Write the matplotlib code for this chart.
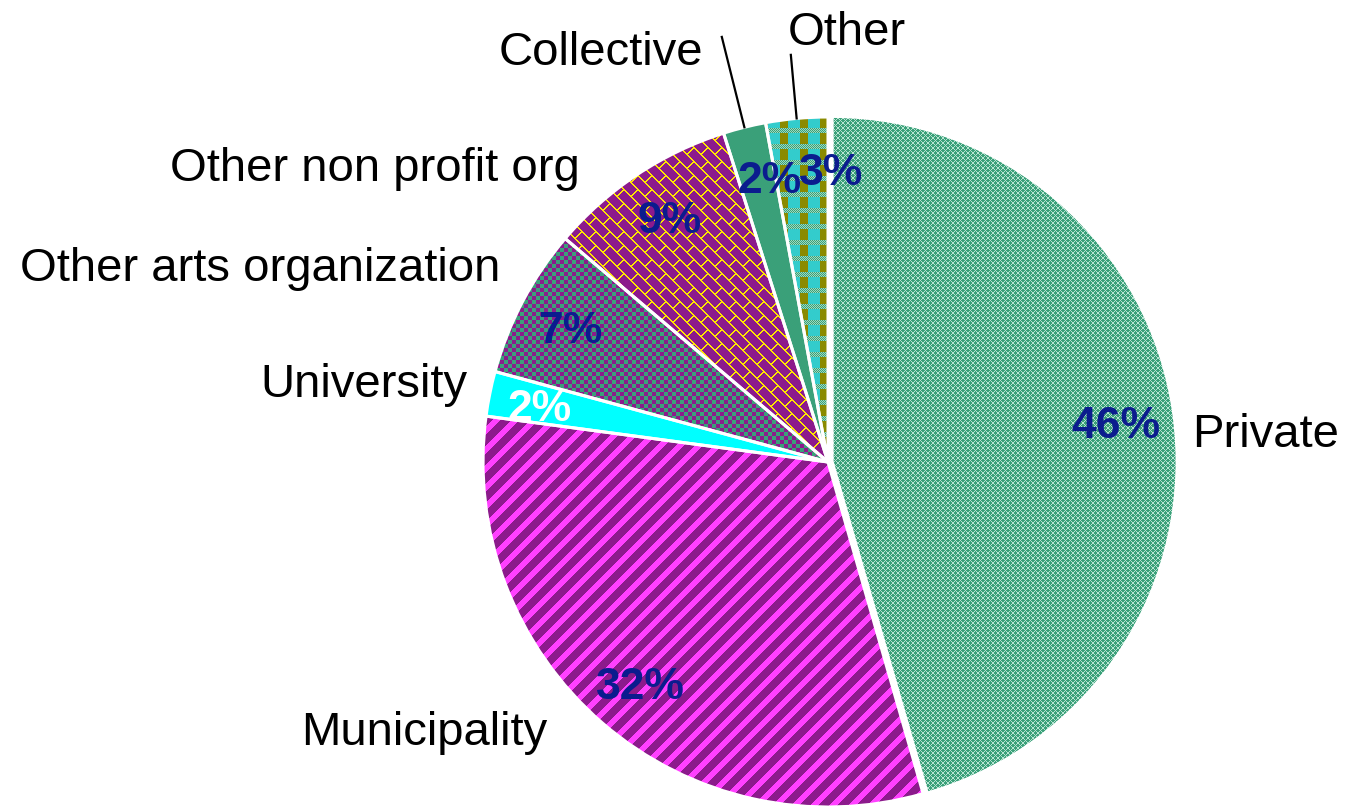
import numpy as np
import matplotlib
matplotlib.use("Agg")
import matplotlib.pyplot as plt

# ---- data ----
categories = ["Private", "Municipality", "University", "Other arts organization",
              "Other non profit org", "Collective", "Other"]
values = [45.6, 31.6, 2.1, 7.0, 8.9, 2.0, 2.9]

# ---- style ----
W, H = 1345, 807
CX, CY, R = 828, 462, 345          # pie centre / radius in pixels
FONT = ["Liberation Sans", "DejaVu Sans"]
explode = [0.012, 0, 0, 0, 0, 0, 0]
pct_colors = ["#0b1c8e", "#0b1c8e", "white", "#0b1c8e", "#0b1c8e", "#0b1c8e", "#0b1c8e"]
pct_shift = [(-0.015, -0.016), (0.008, -0.014), (-0.008, -0.016), (0, -0.016),
             (0.008, -0.006), (0.035, -0.008), (0.085, -0.006)]
# label anchors (data units, radius = 1) and alignment
label_pos = [(1.055, 0.0435, "left"), (-0.812, -0.820, "right"), (-1.046, 0.188, "right"),
             (-0.951, 0.525, "right"), (-0.719, 0.8145, "right"), (-0.362, 1.151, "right"),
             (-0.116, 1.209, "left")]
leader_len = [None, None, None, None, None, 1.27, 1.185]

# ---- textures (figure-pixel aligned) ----
I, J = np.mgrid[0:H, 0:W]
def rgb(h):
    h = h.lstrip("#")
    return np.array([int(h[k:k + 2], 16) for k in (0, 2, 4)], float) / 255

green = rgb("3aa079"); lightg = rgb("b8e4d2"); purple = rgb("8c1a8c")
magenta = rgb("ff40ff"); cyan = rgb("00ffff"); yellow = rgb("ffe600")
olive = rgb("8a8a00"); cyan2 = rgb("33cccc"); lgreen2 = rgb("9fd9bf")

def tex(mask_list):
    img = np.zeros((H, W, 3))
    for m, c in mask_list:
        img[m] = c
    return img

ones = np.ones((H, W), bool)
t_private = tex([(ones, green), ((((I + J) % 5) == 0) | (((I - J) % 5) == 0), lightg)])
t_muni = tex([(ones, purple), (((I + J) % 19) < 8, magenta)])
t_univ = tex([(ones, cyan)])
t_arts = tex([(ones, purple), ((((I // 4) + (J // 4)) % 2) == 0, green)])
u = (J - I) % 14
row = (J - I) // 14
v = (I + J + np.where(row % 2 == 0, 0, 14)) % 28
t_nonprofit = tex([(ones, purple), ((u < 2) | (v < 2), yellow)])
t_coll = tex([(ones, green)])
r_ph = I % 16; c_ph = J % 20
t_other = tex([(ones, cyan2), ((r_ph >= 5) & (c_ph < 8), olive),
               ((r_ph < 5) & (((I + J) % 2) == 0), green),
               ((r_ph < 5) & (((I + J) % 2) == 1), lgreen2)])
textures = [t_private, t_muni, t_univ, t_arts, t_nonprofit, t_coll, t_other]

# ---- figure ----
fig = plt.figure(figsize=(W / 100, H / 100), dpi=100)
ax = fig.add_axes([0, 0, 1, 1])
xlim = (-CX / R, (W - CX) / R)
ylim = (-(H - CY) / R, CY / R)

wedges, texts, autotexts = ax.pie(
    values, explode=explode, startangle=90, counterclock=False, radius=1,
    autopct=lambda p: f"{p:.0f}%", pctdistance=0.845,
    wedgeprops=dict(edgecolor="white", linewidth=2.2),
    textprops=dict(family=FONT))

for w, t in zip(wedges, textures):
    im = ax.imshow(t, extent=(xlim[0], xlim[1], ylim[0], ylim[1]), origin="upper",
                   interpolation="nearest", aspect="auto", zorder=0.5)
    im.set_clip_path(w)
    w.set_facecolor("none")
    w.set_zorder(1)

for at, col, (dx, dy) in zip(autotexts, pct_colors, pct_shift):
    x, y = at.get_position()
    at.set_position((x + dx, y + dy))
    at.set_color(col)
    at.set_fontsize(32)
    at.set_fontweight("bold")
    at.set_family(FONT)

for w, name, (lx, ly, ha), ll in zip(wedges, categories, label_pos, leader_len):
    ax.text(lx, ly, name, ha=ha, va="baseline", fontsize=34, family=FONT, color="black")
    if ll is not None:
        th = np.deg2rad((w.theta1 + w.theta2) / 2)
        ax.plot([np.cos(th) * 1.0, np.cos(th) * ll], [np.sin(th) * 1.0, np.sin(th) * ll],
                color="black", lw=1.6, zorder=2)

ax.set_xlim(*xlim)
ax.set_ylim(*ylim)
ax.set_aspect("auto")
ax.axis("off")
fig.savefig("out.png", dpi=100)
